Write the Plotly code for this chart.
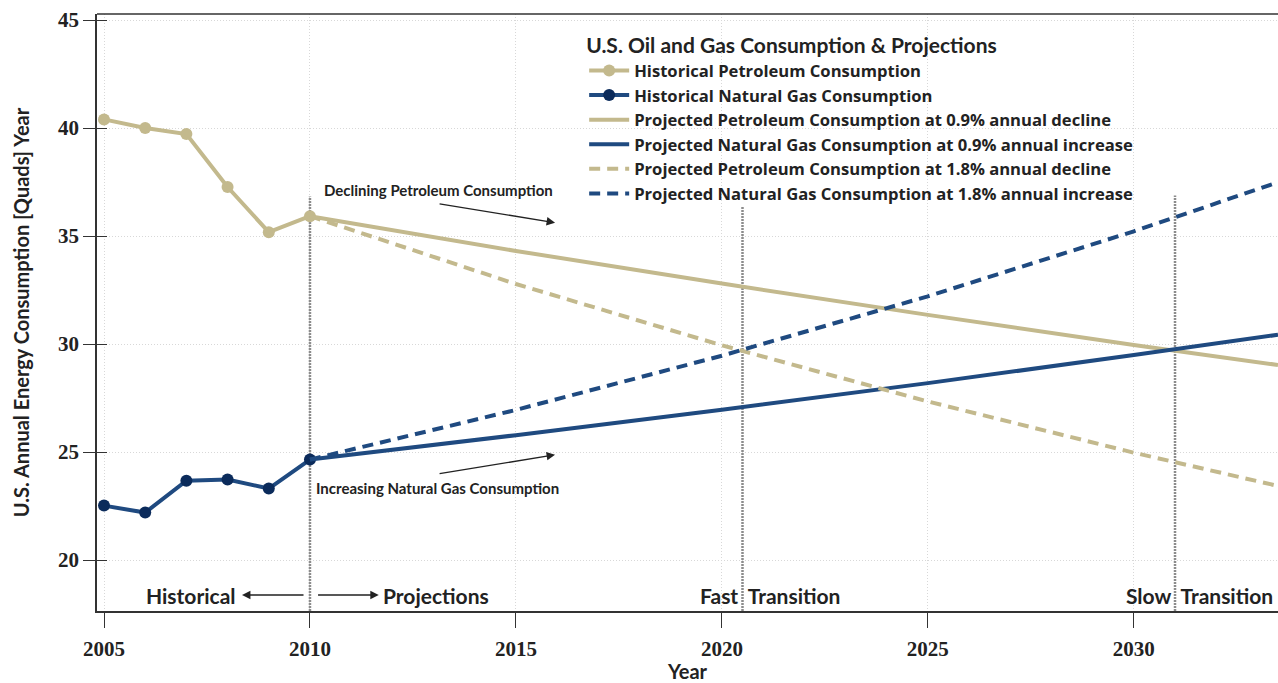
import plotly.graph_objects as go

# ---------------- data ----------------
hist_years = [2005, 2006, 2007, 2008, 2009, 2010]
hist_petroleum = [40.4, 40.0, 39.72, 37.27, 35.18, 35.92]
hist_gas = [22.52, 22.2, 23.67, 23.73, 23.31, 24.65]

proj_years = [2010, 2015, 2020, 2025, 2030, 2033.5]
proj_petroleum_09 = [35.92, 34.31, 32.80, 31.35, 29.96, 29.03]
proj_gas_09 = [24.65, 25.78, 26.96, 28.19, 29.49, 30.43]
proj_petroleum_18 = [35.92, 32.78, 29.94, 27.34, 24.97, 23.43]
proj_gas_18 = [24.65, 26.95, 29.46, 32.21, 35.22, 37.49]

marker_years = [2010, 2020.5, 2031]      # historical/projection split, fast & slow transition
marker_tops = [36.83, 36.37, 36.88]

x_ticks = [2005, 2010, 2015, 2020, 2025, 2030]
y_ticks = [20, 25, 30, 35, 40, 45]

names = [
    "Historical Petroleum Consumption",
    "Historical Natural Gas Consumption",
    "Projected Petroleum Consumption at 0.9% annual decline",
    "Projected Natural Gas Consumption at 0.9% annual increase",
    "Projected Petroleum Consumption at 1.8% annual decline",
    "Projected Natural Gas Consumption at 1.8% annual increase",
]

TAN = "#c3b98d"
NAVY = "#1f4a80"
NAVY_DARK = "#0b2b5b"
INK = "#222222"
SANS = "Lato"
SERIF = "Liberation Serif"

X_RANGE = [2004.83, 2033.5]
Y_RANGE = [17.64, 45.28]

fig = go.Figure()
fig.add_trace(go.Scatter(x=hist_years, y=hist_petroleum, mode="lines+markers", name=names[0],
                         line=dict(color=TAN, width=4), marker=dict(color=TAN, size=12)))
fig.add_trace(go.Scatter(x=hist_years, y=hist_gas, mode="lines+markers", name=names[1],
                         line=dict(color=NAVY, width=4), marker=dict(color=NAVY_DARK, size=12)))
fig.add_trace(go.Scatter(x=proj_years, y=proj_petroleum_09, mode="lines", name=names[2],
                         line=dict(color=TAN, width=4)))
fig.add_trace(go.Scatter(x=proj_years, y=proj_gas_09, mode="lines", name=names[3],
                         line=dict(color=NAVY, width=4)))
fig.add_trace(go.Scatter(x=proj_years, y=proj_petroleum_18, mode="lines", name=names[4],
                         line=dict(color=TAN, width=4, dash="11px,7px")))
fig.add_trace(go.Scatter(x=proj_years, y=proj_gas_18, mode="lines", name=names[5],
                         line=dict(color=NAVY, width=4, dash="11px,7px")))

# vertical dotted marker lines
for xv, top in zip(marker_years, marker_tops):
    fig.add_shape(type="line", xref="x", yref="y", x0=xv, x1=xv, y0=Y_RANGE[0], y1=top,
                  line=dict(color="#8c8c8c", width=2.5, dash="2px,1px"), layer="below")

# top border
fig.add_shape(type="line", xref="paper", yref="paper", x0=0, x1=1, y0=1, y1=1,
              line=dict(color="#333333", width=1.5))

ann_font = dict(family=SANS, size=15, color=INK, weight="bold")
big_font = dict(family=SANS, size=21, color=INK, weight="bold")

annotations = [
    dict(x=2013.11, y=37.11, text="Declining Petroleum Consumption", font=ann_font),
    dict(x=2013.09, y=23.34, text="Increasing Natural Gas Consumption", font=ann_font),
    dict(x=2007.10, y=18.38, text="Historical", font=big_font),
    dict(x=2013.07, y=18.38, text="Projections", font=big_font),
    dict(x=2021.17, y=18.38, text="Fast  Transition", font=big_font),
    dict(x=2031.59, y=18.38, text="Slow  Transition", font=big_font),
]
for a in annotations:
    fig.add_annotation(xref="x", yref="y", showarrow=False, **a)

arrows = [
    ((2013.11, 36.50), (2015.95, 35.62)),
    ((2013.11, 23.99), (2015.95, 24.87)),
    ((2009.88, 18.38), (2008.35, 18.38)),
    ((2010.16, 18.38), (2011.67, 18.38)),
]
for (tx, ty), (hx, hy) in arrows:
    fig.add_annotation(x=hx, y=hy, ax=tx, ay=ty, xref="x", yref="y", axref="x", ayref="y",
                       text="", showarrow=True, arrowhead=2, arrowsize=1.3, arrowwidth=1.3,
                       arrowcolor=INK)

fig.update_layout(
    width=1278, height=683,
    margin=dict(l=97, r=0, t=14, b=72),
    paper_bgcolor="white", plot_bgcolor="white",
    showlegend=True,
    legend=dict(
        x=0.4125, y=0.98, xanchor="left", yanchor="top",
        bgcolor="rgba(0,0,0,0)",
        title=dict(text="U.S. Oil and Gas Consumption & Projections",
                   font=dict(family=SANS, size=21, color=INK, weight="bold")),
        font=dict(family="Open Sans", size=16.6, color=INK, weight="bold"),
        itemwidth=40, tracegroupgap=0,
    ),
    xaxis=dict(
        range=X_RANGE, tickvals=x_ticks, ticks="outside", ticklen=15, tickwidth=1.2,
        tickcolor="#333333", showline=True, linecolor="#333333", linewidth=1.5,
        showgrid=True, gridcolor="#d8d8d8", griddash="1px,2px", gridwidth=1, zeroline=False,
        tickfont=dict(family=SERIF, size=21, color=INK, weight="bold"),
        ticklabelstandoff=3,
        title=dict(text="Year", font=dict(family=SANS, size=20, color=INK, weight="bold"), standoff=9),
        automargin=False,
    ),
    yaxis=dict(
        range=Y_RANGE, tickvals=y_ticks, ticks="outside", ticklen=12, tickwidth=1.2,
        tickcolor="#333333", showline=True, linecolor="#333333", linewidth=1.5,
        showgrid=True, gridcolor="#d8d8d8", griddash="1px,2px", gridwidth=1, zeroline=False,
        tickfont=dict(family=SERIF, size=21, color=INK, weight="bold"),
        title=dict(text="U.S. Annual Energy Consumption [Quads] Year",
                   font=dict(family=SANS, size=20, color=INK, weight="bold"), standoff=23),
        automargin=False,
    ),
    yaxis2=dict(
        overlaying="y", matches="y", range=Y_RANGE, tickvals=y_ticks, ticks="inside", ticklen=10,
        tickwidth=1.2, tickcolor="#333333", showticklabels=False, showgrid=False,
        zeroline=False, showline=False,
    ),
)
# invisible trace to activate the overlay axis for inner ticks
fig.add_trace(go.Scatter(x=[X_RANGE[0]], y=[Y_RANGE[0]], yaxis="y2", mode="markers",
                         marker=dict(opacity=0), showlegend=False, hoverinfo="skip"))

fig.write_html("out.html", config={"displayModeBar": False},
               post_script="document.body.style.margin='0';document.body.style.overflow='hidden';")
